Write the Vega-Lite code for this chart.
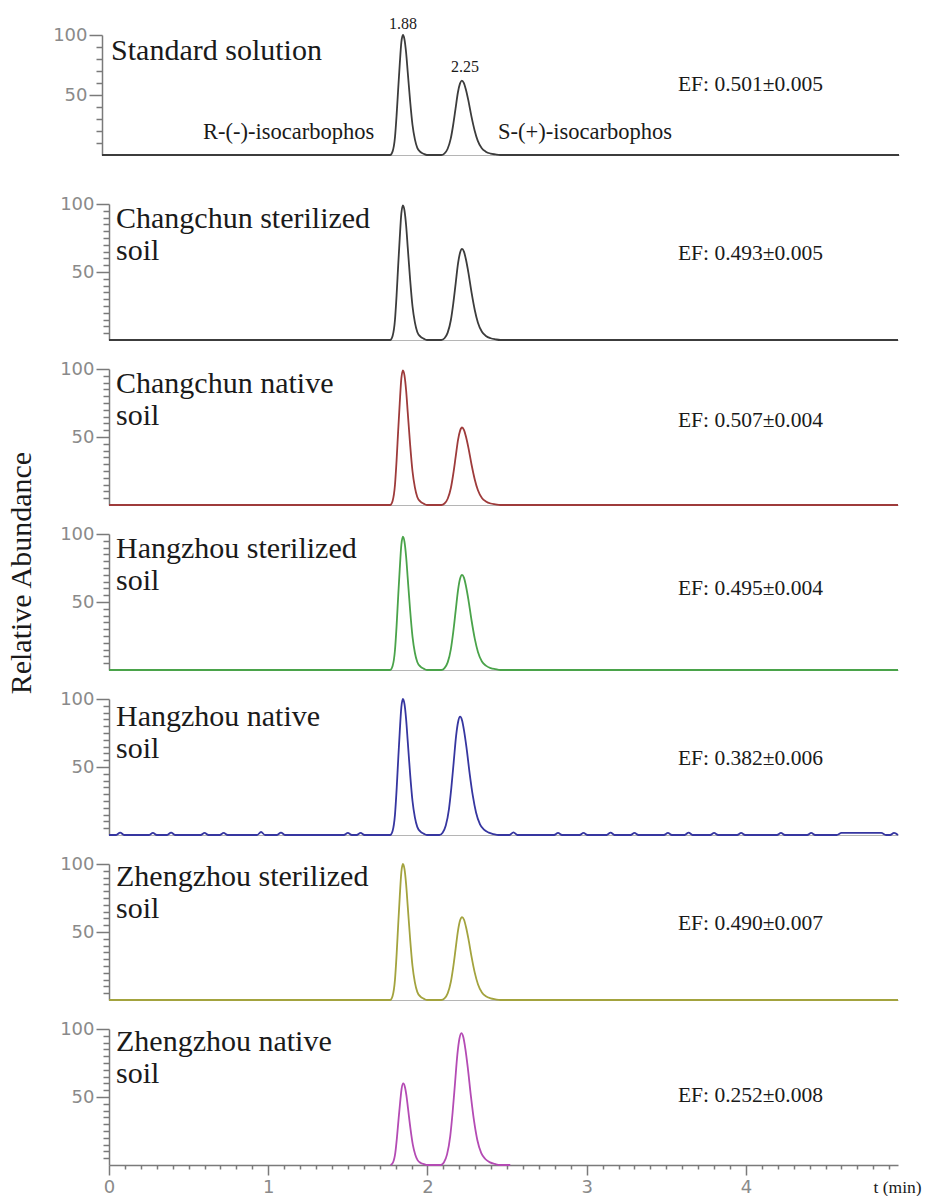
{
"$schema": "https://vega.github.io/schema/vega-lite/v6.json",
"background": "white",
"padding": {"left": 7, "top": 16, "right": 0, "bottom": 0},
"title": {"text": "Relative Abundance", "orient": "left", "anchor": "middle", "frame": "bounds", "font": "Liberation Serif", "fontSize": 30, "fontWeight": "normal", "color": "#1a1a1a", "offset": 15, "dx": 33},
"datasets": {
"trace": [
{"s":1,"t":0,"v":0},{"s":1,"t":1.81,"v":0},{"s":1,"t":1.825,"v":3},{"s":1,"t":1.84,"v":15},{"s":1,"t":1.85,"v":33},{"s":1,"t":1.86,"v":55},{"s":1,"t":1.87,"v":76},{"s":1,"t":1.88,"v":94},{"s":1,"t":1.89,"v":100},{"s":1,"t":1.9,"v":96},{"s":1,"t":1.91,"v":85},{"s":1,"t":1.92,"v":69},{"s":1,"t":1.935,"v":45},{"s":1,"t":1.95,"v":25},{"s":1,"t":1.965,"v":13},{"s":1,"t":1.98,"v":6},{"s":1,"t":2.0,"v":2.5},{"s":1,"t":2.02,"v":1},{"s":1,"t":2.04,"v":0},
{"s":1,"t":2.13,"v":0},{"s":1,"t":2.15,"v":1.2},{"s":1,"t":2.17,"v":5},{"s":1,"t":2.19,"v":13.6},{"s":1,"t":2.205,"v":24.8},{"s":1,"t":2.22,"v":38.4},{"s":1,"t":2.235,"v":52.1},{"s":1,"t":2.248,"v":59.5},{"s":1,"t":2.26,"v":62},{"s":1,"t":2.272,"v":60.1},{"s":1,"t":2.285,"v":54.6},{"s":1,"t":2.3,"v":45.9},{"s":1,"t":2.32,"v":32.2},{"s":1,"t":2.34,"v":20.5},{"s":1,"t":2.36,"v":11.8},{"s":1,"t":2.385,"v":5.6},{"s":1,"t":2.41,"v":2.8},{"s":1,"t":2.44,"v":1.2},{"s":1,"t":2.47,"v":0.5},{"s":1,"t":2.5,"v":0},{"s":1,"t":5.005,"v":0},

{"s":2,"t":0,"v":0},{"s":2,"t":1.766,"v":0},{"s":2,"t":1.781,"v":3},{"s":2,"t":1.796,"v":14.9},{"s":2,"t":1.806,"v":32.7},{"s":2,"t":1.816,"v":54.5},{"s":2,"t":1.826,"v":75.2},{"s":2,"t":1.836,"v":93.1},{"s":2,"t":1.846,"v":99},{"s":2,"t":1.856,"v":95},{"s":2,"t":1.866,"v":84.2},{"s":2,"t":1.876,"v":68.3},{"s":2,"t":1.891,"v":44.6},{"s":2,"t":1.906,"v":24.8},{"s":2,"t":1.921,"v":12.9},{"s":2,"t":1.936,"v":5.9},{"s":2,"t":1.956,"v":2.5},{"s":2,"t":1.976,"v":1},{"s":2,"t":1.996,"v":0},
{"s":2,"t":2.087,"v":0},{"s":2,"t":2.107,"v":1.3},{"s":2,"t":2.127,"v":5.4},{"s":2,"t":2.147,"v":14.7},{"s":2,"t":2.162,"v":26.8},{"s":2,"t":2.177,"v":41.5},{"s":2,"t":2.192,"v":56.3},{"s":2,"t":2.205,"v":64.3},{"s":2,"t":2.217,"v":67},{"s":2,"t":2.229,"v":65},{"s":2,"t":2.242,"v":59},{"s":2,"t":2.257,"v":49.6},{"s":2,"t":2.277,"v":34.8},{"s":2,"t":2.297,"v":22.1},{"s":2,"t":2.317,"v":12.7},{"s":2,"t":2.342,"v":6},{"s":2,"t":2.367,"v":3},{"s":2,"t":2.397,"v":1.3},{"s":2,"t":2.427,"v":0.5},{"s":2,"t":2.457,"v":0},{"s":2,"t":4.955,"v":0},

{"s":3,"t":0,"v":0},{"s":3,"t":1.766,"v":0},{"s":3,"t":1.781,"v":3},{"s":3,"t":1.796,"v":14.9},{"s":3,"t":1.806,"v":32.7},{"s":3,"t":1.816,"v":54.5},{"s":3,"t":1.826,"v":75.2},{"s":3,"t":1.836,"v":93.1},{"s":3,"t":1.846,"v":99},{"s":3,"t":1.856,"v":95},{"s":3,"t":1.866,"v":84.2},{"s":3,"t":1.876,"v":68.3},{"s":3,"t":1.891,"v":44.6},{"s":3,"t":1.906,"v":24.8},{"s":3,"t":1.921,"v":12.9},{"s":3,"t":1.936,"v":5.9},{"s":3,"t":1.956,"v":2.5},{"s":3,"t":1.976,"v":1},{"s":3,"t":1.996,"v":0},
{"s":3,"t":2.087,"v":0},{"s":3,"t":2.107,"v":1.1},{"s":3,"t":2.127,"v":4.6},{"s":3,"t":2.147,"v":12.5},{"s":3,"t":2.162,"v":22.8},{"s":3,"t":2.177,"v":35.3},{"s":3,"t":2.192,"v":47.9},{"s":3,"t":2.205,"v":54.7},{"s":3,"t":2.217,"v":57},{"s":3,"t":2.229,"v":55.3},{"s":3,"t":2.242,"v":50.2},{"s":3,"t":2.257,"v":42.2},{"s":3,"t":2.277,"v":29.6},{"s":3,"t":2.297,"v":18.8},{"s":3,"t":2.317,"v":10.8},{"s":3,"t":2.342,"v":5.1},{"s":3,"t":2.367,"v":2.6},{"s":3,"t":2.397,"v":1.1},{"s":3,"t":2.427,"v":0.5},{"s":3,"t":2.457,"v":0},{"s":3,"t":4.955,"v":0},

{"s":4,"t":0,"v":0},{"s":4,"t":1.766,"v":0},{"s":4,"t":1.781,"v":2.9},{"s":4,"t":1.796,"v":14.7},{"s":4,"t":1.806,"v":32.3},{"s":4,"t":1.816,"v":53.9},{"s":4,"t":1.826,"v":74.5},{"s":4,"t":1.836,"v":92.1},{"s":4,"t":1.846,"v":98},{"s":4,"t":1.856,"v":94.1},{"s":4,"t":1.866,"v":83.3},{"s":4,"t":1.876,"v":67.6},{"s":4,"t":1.891,"v":44.1},{"s":4,"t":1.906,"v":24.5},{"s":4,"t":1.921,"v":12.7},{"s":4,"t":1.936,"v":5.9},{"s":4,"t":1.956,"v":2.5},{"s":4,"t":1.976,"v":1},{"s":4,"t":1.996,"v":0},
{"s":4,"t":2.087,"v":0},{"s":4,"t":2.107,"v":1.4},{"s":4,"t":2.127,"v":5.6},{"s":4,"t":2.147,"v":15.4},{"s":4,"t":2.162,"v":28},{"s":4,"t":2.177,"v":43.4},{"s":4,"t":2.192,"v":58.8},{"s":4,"t":2.205,"v":67.2},{"s":4,"t":2.217,"v":70},{"s":4,"t":2.229,"v":67.9},{"s":4,"t":2.242,"v":61.6},{"s":4,"t":2.257,"v":51.8},{"s":4,"t":2.277,"v":36.4},{"s":4,"t":2.297,"v":23.1},{"s":4,"t":2.317,"v":13.3},{"s":4,"t":2.342,"v":6.3},{"s":4,"t":2.367,"v":3.2},{"s":4,"t":2.397,"v":1.4},{"s":4,"t":2.427,"v":0.6},{"s":4,"t":2.457,"v":0},{"s":4,"t":4.955,"v":0},

{"s":5,"t":0,"v":0},{"s":5,"t":0.045,"v":0},{"s":5,"t":0.07,"v":1.8},{"s":5,"t":0.095,"v":0},{"s":5,"t":0.25,"v":0},{"s":5,"t":0.276,"v":1.5},{"s":5,"t":0.3,"v":0},{"s":5,"t":0.365,"v":0},{"s":5,"t":0.39,"v":1.8},{"s":5,"t":0.415,"v":0},{"s":5,"t":0.575,"v":0},{"s":5,"t":0.6,"v":1.5},{"s":5,"t":0.625,"v":0},{"s":5,"t":0.695,"v":0},{"s":5,"t":0.72,"v":1.5},{"s":5,"t":0.745,"v":0},{"s":5,"t":0.93,"v":0},{"s":5,"t":0.955,"v":2.2},{"s":5,"t":0.98,"v":0},{"s":5,"t":1.055,"v":0},{"s":5,"t":1.08,"v":1.8},{"s":5,"t":1.105,"v":0},{"s":5,"t":1.475,"v":0},{"s":5,"t":1.5,"v":1.5},{"s":5,"t":1.525,"v":0},{"s":5,"t":1.555,"v":0},{"s":5,"t":1.58,"v":1.5},{"s":5,"t":1.605,"v":0},
{"s":5,"t":1.766,"v":0},{"s":5,"t":1.781,"v":3},{"s":5,"t":1.796,"v":15},{"s":5,"t":1.806,"v":33},{"s":5,"t":1.816,"v":55},{"s":5,"t":1.826,"v":76},{"s":5,"t":1.836,"v":94},{"s":5,"t":1.846,"v":100},{"s":5,"t":1.856,"v":96},{"s":5,"t":1.866,"v":85},{"s":5,"t":1.876,"v":69},{"s":5,"t":1.891,"v":45},{"s":5,"t":1.906,"v":25},{"s":5,"t":1.921,"v":13},{"s":5,"t":1.936,"v":6},{"s":5,"t":1.956,"v":2.5},{"s":5,"t":1.976,"v":1},{"s":5,"t":1.996,"v":0},
{"s":5,"t":2.075,"v":0},{"s":5,"t":2.095,"v":1.7},{"s":5,"t":2.115,"v":7},{"s":5,"t":2.135,"v":19.1},{"s":5,"t":2.15,"v":34.8},{"s":5,"t":2.165,"v":53.9},{"s":5,"t":2.18,"v":73.1},{"s":5,"t":2.193,"v":83.5},{"s":5,"t":2.205,"v":87},{"s":5,"t":2.217,"v":84.4},{"s":5,"t":2.23,"v":76.6},{"s":5,"t":2.245,"v":64.4},{"s":5,"t":2.265,"v":45.2},{"s":5,"t":2.285,"v":28.7},{"s":5,"t":2.305,"v":16.5},{"s":5,"t":2.33,"v":7.8},{"s":5,"t":2.355,"v":3.9},{"s":5,"t":2.385,"v":1.7},{"s":5,"t":2.415,"v":0.7},{"s":5,"t":2.445,"v":0},
{"s":5,"t":2.515,"v":0},{"s":5,"t":2.54,"v":2},{"s":5,"t":2.565,"v":0},{"s":5,"t":2.795,"v":0},{"s":5,"t":2.82,"v":1.5},{"s":5,"t":2.845,"v":0},{"s":5,"t":2.955,"v":0},{"s":5,"t":2.98,"v":1.5},{"s":5,"t":3.005,"v":0},{"s":5,"t":3.125,"v":0},{"s":5,"t":3.15,"v":1.8},{"s":5,"t":3.175,"v":0},{"s":5,"t":3.275,"v":0},{"s":5,"t":3.3,"v":1.5},{"s":5,"t":3.325,"v":0},{"s":5,"t":3.485,"v":0},{"s":5,"t":3.51,"v":1.5},{"s":5,"t":3.535,"v":0},{"s":5,"t":3.615,"v":0},{"s":5,"t":3.64,"v":1.8},{"s":5,"t":3.665,"v":0},{"s":5,"t":3.775,"v":0},{"s":5,"t":3.8,"v":1.5},{"s":5,"t":3.825,"v":0},{"s":5,"t":3.945,"v":0},{"s":5,"t":3.97,"v":1.5},{"s":5,"t":3.995,"v":0},{"s":5,"t":4.195,"v":0},{"s":5,"t":4.22,"v":1.5},{"s":5,"t":4.245,"v":0},{"s":5,"t":4.385,"v":0},{"s":5,"t":4.41,"v":1.5},{"s":5,"t":4.435,"v":0},{"s":5,"t":4.57,"v":0},{"s":5,"t":4.6,"v":1.5},{"s":5,"t":4.85,"v":1.5},{"s":5,"t":4.88,"v":0},{"s":5,"t":4.905,"v":0},{"s":5,"t":4.93,"v":1.5},{"s":5,"t":4.955,"v":0},

{"s":6,"t":0,"v":0},{"s":6,"t":1.766,"v":0},{"s":6,"t":1.781,"v":3},{"s":6,"t":1.796,"v":15},{"s":6,"t":1.806,"v":33},{"s":6,"t":1.816,"v":55},{"s":6,"t":1.826,"v":76},{"s":6,"t":1.836,"v":94},{"s":6,"t":1.846,"v":100},{"s":6,"t":1.856,"v":96},{"s":6,"t":1.866,"v":85},{"s":6,"t":1.876,"v":69},{"s":6,"t":1.891,"v":45},{"s":6,"t":1.906,"v":25},{"s":6,"t":1.921,"v":13},{"s":6,"t":1.936,"v":6},{"s":6,"t":1.956,"v":2.5},{"s":6,"t":1.976,"v":1},{"s":6,"t":1.996,"v":0},
{"s":6,"t":2.087,"v":0},{"s":6,"t":2.107,"v":1.2},{"s":6,"t":2.127,"v":4.9},{"s":6,"t":2.147,"v":13.4},{"s":6,"t":2.162,"v":24.4},{"s":6,"t":2.177,"v":37.8},{"s":6,"t":2.192,"v":51.2},{"s":6,"t":2.205,"v":58.6},{"s":6,"t":2.217,"v":61},{"s":6,"t":2.229,"v":59.2},{"s":6,"t":2.242,"v":53.7},{"s":6,"t":2.257,"v":45.1},{"s":6,"t":2.277,"v":31.7},{"s":6,"t":2.297,"v":20.1},{"s":6,"t":2.317,"v":11.6},{"s":6,"t":2.342,"v":5.5},{"s":6,"t":2.367,"v":2.7},{"s":6,"t":2.397,"v":1.2},{"s":6,"t":2.427,"v":0.5},{"s":6,"t":2.457,"v":0},{"s":6,"t":4.955,"v":0},

{"s":7,"t":1.768,"v":0},{"s":7,"t":1.783,"v":1.8},{"s":7,"t":1.798,"v":9},{"s":7,"t":1.808,"v":19.8},{"s":7,"t":1.818,"v":33},{"s":7,"t":1.828,"v":45.6},{"s":7,"t":1.838,"v":56.4},{"s":7,"t":1.848,"v":60},{"s":7,"t":1.858,"v":57.6},{"s":7,"t":1.868,"v":51},{"s":7,"t":1.878,"v":41.4},{"s":7,"t":1.893,"v":27},{"s":7,"t":1.908,"v":15},{"s":7,"t":1.923,"v":7.8},{"s":7,"t":1.938,"v":3.6},{"s":7,"t":1.958,"v":1.5},{"s":7,"t":1.978,"v":0.6},{"s":7,"t":1.998,"v":0},
{"s":7,"t":2.083,"v":0},{"s":7,"t":2.103,"v":1.9},{"s":7,"t":2.123,"v":7.8},{"s":7,"t":2.143,"v":21.3},{"s":7,"t":2.158,"v":38.8},{"s":7,"t":2.173,"v":60.1},{"s":7,"t":2.188,"v":81.5},{"s":7,"t":2.201,"v":93.1},{"s":7,"t":2.213,"v":97},{"s":7,"t":2.225,"v":94.1},{"s":7,"t":2.238,"v":85.4},{"s":7,"t":2.253,"v":71.8},{"s":7,"t":2.273,"v":50.4},{"s":7,"t":2.293,"v":32},{"s":7,"t":2.313,"v":18.4},{"s":7,"t":2.338,"v":8.7},{"s":7,"t":2.363,"v":4.4},{"s":7,"t":2.393,"v":1.9},{"s":7,"t":2.423,"v":0.8},{"s":7,"t":2.453,"v":0},{"s":7,"t":2.52,"v":0}
],
"notes": [
{"s":1,"kind":"name","t":0.057,"v":79,"label":"Standard solution"},
{"s":1,"kind":"ef","t":3.617,"v":58,"label":"EF: 0.501±0.005"},
{"s":1,"kind":"iso","t":0.634,"v":19,"label":"R-(-)-isocarbophos"},
{"s":1,"kind":"iso","t":2.487,"v":19,"label":"S-(+)-isocarbophos"},
{"s":1,"kind":"peak","t":1.89,"v":109,"label":"1.88"},
{"s":1,"kind":"peak","t":2.28,"v":73,"label":"2.25"},
{"s":2,"kind":"name","t":0.044,"v":82,"label":"Changchun sterilized\nsoil"},
{"s":2,"kind":"ef","t":3.573,"v":63,"label":"EF: 0.493±0.005"},
{"s":3,"kind":"name","t":0.044,"v":82,"label":"Changchun native\nsoil"},
{"s":3,"kind":"ef","t":3.573,"v":62,"label":"EF: 0.507±0.004"},
{"s":4,"kind":"name","t":0.044,"v":82,"label":"Hangzhou sterilized\nsoil"},
{"s":4,"kind":"ef","t":3.573,"v":59.6,"label":"EF: 0.495±0.004"},
{"s":5,"kind":"name","t":0.044,"v":80.5,"label":"Hangzhou native\nsoil"},
{"s":5,"kind":"ef","t":3.573,"v":56,"label":"EF: 0.382±0.006"},
{"s":6,"kind":"name","t":0.044,"v":83.5,"label":"Zhengzhou sterilized\nsoil"},
{"s":6,"kind":"ef","t":3.573,"v":56,"label":"EF: 0.490±0.007"},
{"s":7,"kind":"name","t":0.044,"v":84,"label":"Zhengzhou native\nsoil"},
{"s":7,"kind":"ef","t":3.573,"v":51,"label":"EF: 0.252±0.008"}
]
},
"columns": 1,
"spacing": 36,
"align": "none",
"concat": [
{
"width": 790, "height": 120,
"layer": [
{"data": {"name": "trace"}, "transform": [{"filter": "datum.s === 1"}],
"mark": {"type": "line", "color": "#3c3c3c", "strokeWidth": 1.8, "interpolate": "monotone"},
"encoding": {
"x": {"field": "t", "type": "quantitative", "scale": {"domain": [0.044, 5.005], "nice": false, "zero": false}, "axis": {"orient": "bottom", "domainColor": "#b5b5b5", "domainWidth": 1.2, "ticks": false, "labels": false, "title": null}},
"y": {"field": "v", "type": "quantitative", "scale": {"domain": [0, 100], "nice": false}, "axis": {"orient": "left", "offset": 7, "values": [10,20,30,40,60,70,80,90], "tickSize": 6, "labels": false, "title": null}}}},
{"data": {"name": "notes"}, "transform": [{"filter": "datum.s === 1 && datum.kind === 'ef'"}],
"mark": {"type": "text", "align": "left", "baseline": "middle", "fontSize": 21.5},
"encoding": {
"x": {"field": "t", "type": "quantitative", "axis": null},
"y": {"field": "v", "type": "quantitative", "axis": {"orient": "left", "offset": 7, "values": [50, 100], "tickSize": 13, "labelPadding": 2, "labelFlush": false, "domain": false, "title": null}},
"text": {"field": "label"}}},
{"data": {"name": "notes"}, "transform": [{"filter": "datum.s === 1 && datum.kind === 'name'"}],
"mark": {"type": "text", "align": "left", "baseline": "alphabetic", "fontSize": 30, "lineBreak": "\n", "lineHeight": 32},
"encoding": {"x": {"field": "t", "type": "quantitative", "axis": null}, "y": {"field": "v", "type": "quantitative", "axis": null}, "text": {"field": "label"}}},
{"data": {"name": "notes"}, "transform": [{"filter": "datum.s === 1 && datum.kind === 'iso'"}],
"mark": {"type": "text", "align": "left", "baseline": "middle", "fontSize": 22.5},
"encoding": {"x": {"field": "t", "type": "quantitative", "axis": null}, "y": {"field": "v", "type": "quantitative", "axis": null}, "text": {"field": "label"}}},
{"data": {"name": "notes"}, "transform": [{"filter": "datum.s === 1 && datum.kind === 'peak'"}],
"mark": {"type": "text", "align": "center", "baseline": "middle", "fontSize": 16},
"encoding": {"x": {"field": "t", "type": "quantitative", "axis": null}, "y": {"field": "v", "type": "quantitative", "axis": null}, "text": {"field": "label"}}}
],
"resolve": {"axis": {"x": "independent", "y": "independent"}}
},
{
"columns": 1,
"spacing": 16,
"align": "none",
"concat": [
{
"width": 789, "height": 136,
"layer": [
{"data": {"name": "trace"}, "transform": [{"filter": "datum.s === 2"}],
"mark": {"type": "line", "color": "#3c3c3c", "strokeWidth": 1.8, "interpolate": "monotone"},
"encoding": {
"x": {"field": "t", "type": "quantitative", "scale": {"domain": [0, 4.955], "nice": false, "zero": false}, "axis": {"orient": "bottom", "domainColor": "#b5b5b5", "domainWidth": 1.2, "ticks": false, "labels": false, "title": null}},
"y": {"field": "v", "type": "quantitative", "scale": {"domain": [0, 100], "nice": false}, "axis": {"orient": "left", "values": [5,10,15,20,25,30,35,40,45,55,60,65,70,75,80,85,90,95], "tickSize": 6, "labels": false, "title": " ", "titleFontSize": 4, "titlePadding": 46}}}},
{"data": {"name": "notes"}, "transform": [{"filter": "datum.s === 2 && datum.kind === 'ef'"}],
"mark": {"type": "text", "align": "left", "baseline": "middle", "fontSize": 21.5},
"encoding": {
"x": {"field": "t", "type": "quantitative", "axis": null},
"y": {"field": "v", "type": "quantitative", "axis": {"orient": "left", "values": [50, 100], "tickSize": 13, "labelPadding": 2, "labelFlush": false, "domain": false, "title": null}},
"text": {"field": "label"}}},
{"data": {"name": "notes"}, "transform": [{"filter": "datum.s === 2 && datum.kind === 'name'"}],
"mark": {"type": "text", "align": "left", "baseline": "alphabetic", "fontSize": 30, "lineBreak": "\n", "lineHeight": 32},
"encoding": {"x": {"field": "t", "type": "quantitative", "axis": null}, "y": {"field": "v", "type": "quantitative", "axis": null}, "text": {"field": "label"}}}
],
"resolve": {"axis": {"x": "independent", "y": "independent"}}
},
{
"width": 789, "height": 136,
"layer": [
{"data": {"name": "trace"}, "transform": [{"filter": "datum.s === 3"}],
"mark": {"type": "line", "color": "#9e3b3b", "strokeWidth": 1.8, "interpolate": "monotone"},
"encoding": {
"x": {"field": "t", "type": "quantitative", "scale": {"domain": [0, 4.955], "nice": false, "zero": false}, "axis": {"orient": "bottom", "domainColor": "#b5b5b5", "domainWidth": 1.2, "ticks": false, "labels": false, "title": null}},
"y": {"field": "v", "type": "quantitative", "scale": {"domain": [0, 100], "nice": false}, "axis": {"orient": "left", "values": [5,10,15,20,25,30,35,40,45,55,60,65,70,75,80,85,90,95], "tickSize": 6, "labels": false, "title": " ", "titleFontSize": 4, "titlePadding": 46}}}},
{"data": {"name": "notes"}, "transform": [{"filter": "datum.s === 3 && datum.kind === 'ef'"}],
"mark": {"type": "text", "align": "left", "baseline": "middle", "fontSize": 21.5},
"encoding": {
"x": {"field": "t", "type": "quantitative", "axis": null},
"y": {"field": "v", "type": "quantitative", "axis": {"orient": "left", "values": [50, 100], "tickSize": 13, "labelPadding": 2, "labelFlush": false, "domain": false, "title": null}},
"text": {"field": "label"}}},
{"data": {"name": "notes"}, "transform": [{"filter": "datum.s === 3 && datum.kind === 'name'"}],
"mark": {"type": "text", "align": "left", "baseline": "alphabetic", "fontSize": 30, "lineBreak": "\n", "lineHeight": 32},
"encoding": {"x": {"field": "t", "type": "quantitative", "axis": null}, "y": {"field": "v", "type": "quantitative", "axis": null}, "text": {"field": "label"}}}
],
"resolve": {"axis": {"x": "independent", "y": "independent"}}
},
{
"width": 789, "height": 136,
"layer": [
{"data": {"name": "trace"}, "transform": [{"filter": "datum.s === 4"}],
"mark": {"type": "line", "color": "#4aa34a", "strokeWidth": 1.8, "interpolate": "monotone"},
"encoding": {
"x": {"field": "t", "type": "quantitative", "scale": {"domain": [0, 4.955], "nice": false, "zero": false}, "axis": {"orient": "bottom", "domainColor": "#b5b5b5", "domainWidth": 1.2, "ticks": false, "labels": false, "title": null}},
"y": {"field": "v", "type": "quantitative", "scale": {"domain": [0, 100], "nice": false}, "axis": {"orient": "left", "values": [5,10,15,20,25,30,35,40,45,55,60,65,70,75,80,85,90,95], "tickSize": 6, "labels": false, "title": " ", "titleFontSize": 4, "titlePadding": 46}}}},
{"data": {"name": "notes"}, "transform": [{"filter": "datum.s === 4 && datum.kind === 'ef'"}],
"mark": {"type": "text", "align": "left", "baseline": "middle", "fontSize": 21.5},
"encoding": {
"x": {"field": "t", "type": "quantitative", "axis": null},
"y": {"field": "v", "type": "quantitative", "axis": {"orient": "left", "values": [50, 100], "tickSize": 13, "labelPadding": 2, "labelFlush": false, "domain": false, "title": null}},
"text": {"field": "label"}}},
{"data": {"name": "notes"}, "transform": [{"filter": "datum.s === 4 && datum.kind === 'name'"}],
"mark": {"type": "text", "align": "left", "baseline": "alphabetic", "fontSize": 30, "lineBreak": "\n", "lineHeight": 32},
"encoding": {"x": {"field": "t", "type": "quantitative", "axis": null}, "y": {"field": "v", "type": "quantitative", "axis": null}, "text": {"field": "label"}}}
],
"resolve": {"axis": {"x": "independent", "y": "independent"}}
},
{
"width": 789, "height": 136,
"layer": [
{"data": {"name": "trace"}, "transform": [{"filter": "datum.s === 5"}],
"mark": {"type": "line", "color": "#3636a0", "strokeWidth": 1.8, "interpolate": "monotone"},
"encoding": {
"x": {"field": "t", "type": "quantitative", "scale": {"domain": [0, 4.955], "nice": false, "zero": false}, "axis": {"orient": "bottom", "domainColor": "#b5b5b5", "domainWidth": 1.2, "ticks": false, "labels": false, "title": null}},
"y": {"field": "v", "type": "quantitative", "scale": {"domain": [0, 100], "nice": false}, "axis": {"orient": "left", "values": [5,10,15,20,25,30,35,40,45,55,60,65,70,75,80,85,90,95], "tickSize": 6, "labels": false, "title": " ", "titleFontSize": 4, "titlePadding": 46}}}},
{"data": {"name": "notes"}, "transform": [{"filter": "datum.s === 5 && datum.kind === 'ef'"}],
"mark": {"type": "text", "align": "left", "baseline": "middle", "fontSize": 21.5},
"encoding": {
"x": {"field": "t", "type": "quantitative", "axis": null},
"y": {"field": "v", "type": "quantitative", "axis": {"orient": "left", "values": [50, 100], "tickSize": 13, "labelPadding": 2, "labelFlush": false, "domain": false, "title": null}},
"text": {"field": "label"}}},
{"data": {"name": "notes"}, "transform": [{"filter": "datum.s === 5 && datum.kind === 'name'"}],
"mark": {"type": "text", "align": "left", "baseline": "alphabetic", "fontSize": 30, "lineBreak": "\n", "lineHeight": 32},
"encoding": {"x": {"field": "t", "type": "quantitative", "axis": null}, "y": {"field": "v", "type": "quantitative", "axis": null}, "text": {"field": "label"}}}
],
"resolve": {"axis": {"x": "independent", "y": "independent"}}
},
{
"width": 789, "height": 136,
"layer": [
{"data": {"name": "trace"}, "transform": [{"filter": "datum.s === 6"}],
"mark": {"type": "line", "color": "#a3a33e", "strokeWidth": 1.8, "interpolate": "monotone"},
"encoding": {
"x": {"field": "t", "type": "quantitative", "scale": {"domain": [0, 4.955], "nice": false, "zero": false}, "axis": {"orient": "bottom", "domainColor": "#b5b5b5", "domainWidth": 1.2, "ticks": false, "labels": false, "title": null}},
"y": {"field": "v", "type": "quantitative", "scale": {"domain": [0, 100], "nice": false}, "axis": {"orient": "left", "values": [5,10,15,20,25,30,35,40,45,55,60,65,70,75,80,85,90,95], "tickSize": 6, "labels": false, "title": " ", "titleFontSize": 4, "titlePadding": 46}}}},
{"data": {"name": "notes"}, "transform": [{"filter": "datum.s === 6 && datum.kind === 'ef'"}],
"mark": {"type": "text", "align": "left", "baseline": "middle", "fontSize": 21.5},
"encoding": {
"x": {"field": "t", "type": "quantitative", "axis": null},
"y": {"field": "v", "type": "quantitative", "axis": {"orient": "left", "values": [50, 100], "tickSize": 13, "labelPadding": 2, "labelFlush": false, "domain": false, "title": null}},
"text": {"field": "label"}}},
{"data": {"name": "notes"}, "transform": [{"filter": "datum.s === 6 && datum.kind === 'name'"}],
"mark": {"type": "text", "align": "left", "baseline": "alphabetic", "fontSize": 30, "lineBreak": "\n", "lineHeight": 32},
"encoding": {"x": {"field": "t", "type": "quantitative", "axis": null}, "y": {"field": "v", "type": "quantitative", "axis": null}, "text": {"field": "label"}}}
],
"resolve": {"axis": {"x": "independent", "y": "independent"}}
},
{
"width": 789, "height": 136,
"layer": [
{"data": {"name": "trace"}, "transform": [{"filter": "datum.s === 7"}],
"mark": {"type": "line", "color": "#b44bb4", "strokeWidth": 1.8, "interpolate": "monotone"},
"encoding": {
"x": {"field": "t", "type": "quantitative", "scale": {"domain": [0, 4.955], "nice": false, "zero": false}, "axis": {"orient": "bottom", "values": [0.1,0.2,0.3,0.4,0.5,0.6,0.7,0.8,0.9,1.1,1.2,1.3,1.4,1.5,1.6,1.7,1.8,1.9,2.1,2.2,2.3,2.4,2.5,2.6,2.7,2.8,2.9,3.1,3.2,3.3,3.4,3.5,3.6,3.7,3.8,3.9,4.1,4.2,4.3,4.4,4.5,4.6,4.7,4.8,4.9], "tickSize": 4, "labels": false, "title": null}},
"y": {"field": "v", "type": "quantitative", "scale": {"domain": [0, 100], "nice": false}, "axis": {"orient": "left", "values": [5,10,15,20,25,30,35,40,45,55,60,65,70,75,80,85,90,95], "tickSize": 6, "labels": false, "title": " ", "titleFontSize": 4, "titlePadding": 46}}}},
{"data": {"name": "notes"}, "transform": [{"filter": "datum.s === 7 && datum.kind === 'ef'"}],
"mark": {"type": "text", "align": "left", "baseline": "middle", "fontSize": 21.5},
"encoding": {
"x": {"field": "t", "type": "quantitative", "axis": {"orient": "bottom", "values": [0,1,2,3,4], "tickSize": 10, "labelPadding": 3, "labelFlush": false, "domain": false, "title": "t (min)", "titleFontSize": 17.5, "titleAlign": "left", "titleBaseline": "alphabetic", "titleX": 764, "titleY": 27}},
"y": {"field": "v", "type": "quantitative", "axis": {"orient": "left", "values": [50, 100], "tickSize": 13, "labelPadding": 2, "labelFlush": false, "domain": false, "title": null}},
"text": {"field": "label"}}},
{"data": {"name": "notes"}, "transform": [{"filter": "datum.s === 7 && datum.kind === 'name'"}],
"mark": {"type": "text", "align": "left", "baseline": "alphabetic", "fontSize": 30, "lineBreak": "\n", "lineHeight": 32},
"encoding": {"x": {"field": "t", "type": "quantitative", "axis": null}, "y": {"field": "v", "type": "quantitative", "axis": null}, "text": {"field": "label"}}}
],
"resolve": {"axis": {"x": "independent", "y": "independent"}}
}
]
}
],
"config": {
"view": {"stroke": null},
"axis": {"grid": false, "labelFont": "DejaVu Sans", "labelFontSize": 18, "labelColor": "#8a8a8a", "tickColor": "#7a7a7a", "domainColor": "#7a7a7a", "tickWidth": 1.5, "domainWidth": 1.5, "titleFont": "Liberation Serif", "titleFontWeight": "normal", "titleColor": "#1a1a1a"},
"text": {"font": "Liberation Serif", "color": "#1a1a1a"}
}
}
